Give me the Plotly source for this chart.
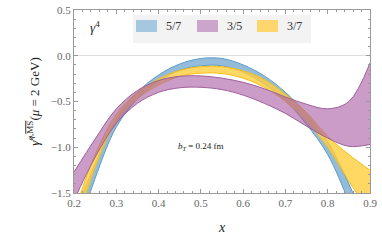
import plotly.graph_objects as go

# x grid (momentum fraction)
x_vals = [0.20, 0.25, 0.30, 0.35, 0.40, 0.45, 0.50, 0.55, 0.60, 0.65, 0.70, 0.75, 0.80, 0.85, 0.90]

# 5/7 band
blue_upper = [-1.75, -1.18, -0.69, -0.40, -0.21, -0.09, -0.03, -0.03, -0.10, -0.22, -0.40, -0.64, -0.94, -1.40, -1.95]
blue_lower = [-2.05, -1.34, -0.78, -0.47, -0.28, -0.16, -0.11, -0.11, -0.18, -0.31, -0.49, -0.75, -1.08, -1.60, -2.25]

# 3/7 band
yellow_upper = [-1.72, -1.08, -0.64, -0.40, -0.255, -0.16, -0.12, -0.12, -0.165, -0.26, -0.42, -0.62, -0.88, -1.08, -1.25]
yellow_lower = [-1.95, -1.22, -0.72, -0.47, -0.32, -0.225, -0.19, -0.195, -0.245, -0.345, -0.50, -0.72, -1.00, -1.37, -1.72]

# 3/5 band
purple_upper = [-1.27, -0.91, -0.58, -0.38, -0.27, -0.225, -0.22, -0.245, -0.29, -0.36, -0.45, -0.53, -0.58, -0.50, -0.08]
purple_lower = [-1.58, -1.11, -0.74, -0.52, -0.40, -0.35, -0.345, -0.37, -0.43, -0.52, -0.63, -0.77, -0.90, -0.99, -0.97]

labels = ["5/7", "3/5", "3/7"]

FONT = "Liberation Serif, DejaVu Serif, serif"

fig = go.Figure()

bands = [
    (blue_lower, blue_upper, "rgba(110,165,205,0.75)", "rgba(95,155,200,1)"),
    (yellow_lower, yellow_upper, "rgba(255,205,60,0.8)", "rgba(250,190,20,1)"),
    (purple_lower, purple_upper, "rgba(170,95,165,0.62)", "rgba(160,95,155,1)"),
]
for lo, up, fillc, linec in bands:
    fig.add_trace(go.Scatter(x=x_vals, y=lo, mode="lines", line=dict(color=linec, width=1, shape="spline"),
                             showlegend=False, hoverinfo="skip"))
    fig.add_trace(go.Scatter(x=x_vals, y=up, mode="lines", line=dict(color=linec, width=1, shape="spline"),
                             fill="tonexty", fillcolor=fillc, showlegend=False, hoverinfo="skip"))

axis_common = dict(
    showline=True, linecolor="#9a9a9a", linewidth=1, mirror="ticks",
    ticks="inside", ticklen=4, tickcolor="#9a9a9a", showgrid=False, automargin=False,
    tickfont=dict(family=FONT, size=11, color="#666666"),
)
fig.update_xaxes(range=[0.2, 0.9], dtick=0.1, tickformat=".1f",
                 minor=dict(dtick=0.02, ticks="inside", ticklen=2, tickcolor="#9a9a9a"),
                 title=dict(text="<i>x</i>", font=dict(family=FONT, size=14, color="#222"), standoff=13),
                 zeroline=False, **axis_common)
fig.update_yaxes(range=[-1.5, 0.5], dtick=0.5, tickformat=".1f",
                 minor=dict(dtick=0.1, ticks="inside", ticklen=2, tickcolor="#9a9a9a"),
                 title=dict(text="<i>γ̂</i><sup><i>q</i>,<span style='text-decoration:overline'>MS</span></sup>(<i>μ</i> = 2 GeV)",
                            font=dict(family=FONT, size=13, color="#222"), standoff=8),
                 zeroline=True, zerolinecolor="#dddddd", zerolinewidth=1, **axis_common)

# legend drawn manually
legend_colors = ["rgba(150,190,220,0.85)", "rgba(200,160,200,0.95)", "rgba(253,215,110,1)"]
sw_x = [(136, 157), (197, 218), (257, 278)]
txt_x = [164, 225, 285]
def px2paper_x(p):
    return (p - 74) / 296.0
def py2paper_y(p):
    return 1 - (p - 10) / 183.0

fig.add_shape(type="rect", xref="paper", yref="paper",
              x0=px2paper_x(133), x1=px2paper_x(311), y0=py2paper_y(43), y1=py2paper_y(15),
              fillcolor="#f3f3f3", line=dict(width=0), layer="above")
for (a, b), tx, col, lab in zip(sw_x, txt_x, legend_colors, labels):
    fig.add_shape(type="rect", xref="paper", yref="paper",
                  x0=px2paper_x(a), x1=px2paper_x(b), y0=py2paper_y(32), y1=py2paper_y(20),
                  fillcolor=col, line=dict(width=0), layer="above")
    fig.add_annotation(xref="paper", yref="paper", x=px2paper_x(tx), y=py2paper_y(26),
                       text=lab, showarrow=False, xanchor="left", yanchor="middle",
                       font=dict(family=FONT, size=12, color="#333"))

fig.add_annotation(xref="paper", yref="paper", x=px2paper_x(88), y=py2paper_y(27),
                   text="<i>γ</i><sup>4</sup>", showarrow=False, xanchor="left", yanchor="middle",
                   font=dict(family=FONT, size=13, color="#222"))
fig.add_annotation(x=0.5, y=-0.99, text="<i>b<sub>T</sub></i> = 0.24 fm", showarrow=False,
                   xanchor="center", yanchor="middle", font=dict(family=FONT, size=9, color="#222"))

fig.update_layout(
    width=382, height=243,
    margin=dict(l=74, r=12, t=10, b=50),
    plot_bgcolor="white", paper_bgcolor="white",
    showlegend=False,
    font=dict(family=FONT),
)

fig.write_html("out.html", config={"displayModeBar": False},
               post_script="document.body.style.margin='0px';document.body.style.overflow='hidden';")
